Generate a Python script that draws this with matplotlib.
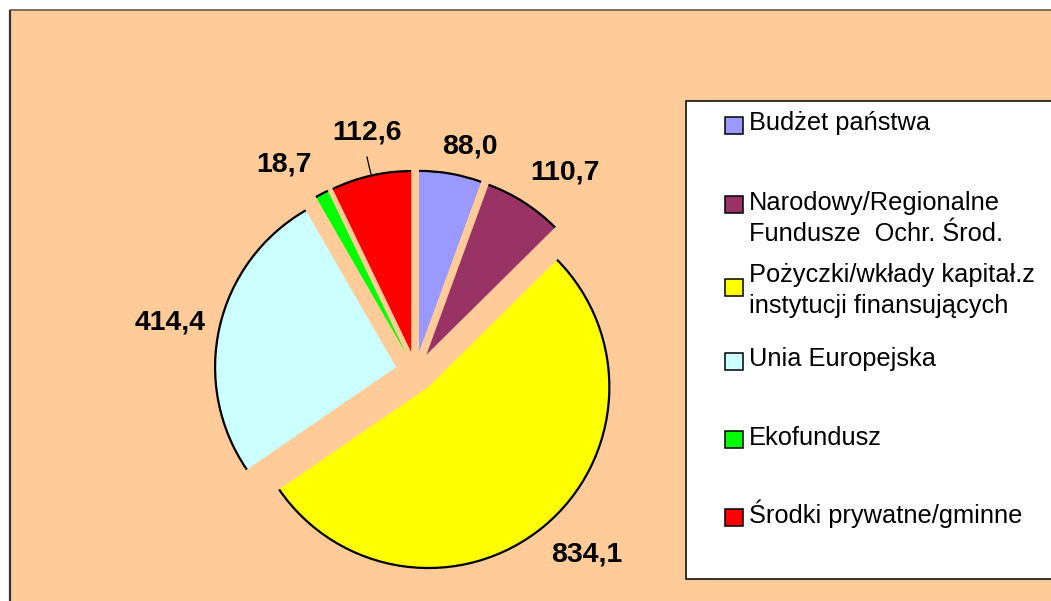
import matplotlib
matplotlib.use("Agg")
import matplotlib.pyplot as plt
from matplotlib.patches import Rectangle, Arc
import numpy as np

plt.rcParams['font.family'] = ['Liberation Sans', 'DejaVu Sans']

# ---- data ----
categories = [
    "Budżet państwa",
    "Narodowy/Regionalne\nFundusze  Ochr. Środ.",
    "Pożyczki/wkłady kapitał.z\ninstytucji finansujących",
    "Unia Europejska",
    "Ekofundusz",
    "Środki prywatne/gminne",
]
values = [88.0, 110.7, 834.1, 414.4, 18.7, 112.6]
colors = ["#9999FF", "#993366", "#FFFF00", "#CCFFFF", "#00FF00", "#FF0000"]

# ---- layout (pixels) ----
W, H = 1051, 601
BG = "#FFCC99"
cx, cy = 415.6, 371.6       # pie centre (pixel, from top)
R = 181.0                   # radius in px
explode_px = 20.0

label_pos = [(470, 147), (565, 173), (587, 555), (170, 323), (284, 165), (367, 132)]
legend_text_baseline = [130, 210, 282, 366, 445, 523]
legend_marker_center = [125, 204, 287, 361, 439, 517]

fig = plt.figure(figsize=(W / 100, H / 100), dpi=100)
fig.patch.set_facecolor("white")

# pixel axes (y downward)
ax = fig.add_axes([0, 0, 1, 1])
ax.set_xlim(0, W)
ax.set_ylim(H, 0)
ax.axis("off")

ax.add_patch(Rectangle((10, 10), W - 10, H - 10, facecolor=BG, edgecolor="none", zorder=0))
ax.plot([10, 10], [10, H], color="#333333", lw=1.6, zorder=1, solid_capstyle="butt")
ax.plot([10, W], [10, 10], color="#6a5a4a", lw=1.2, zorder=1, solid_capstyle="butt")

# legend box
ax.add_patch(Rectangle((686, 101), W + 10 - 686, 579 - 101, facecolor="white",
                       edgecolor="black", lw=1.1, zorder=1))
for i, (cat, col) in enumerate(zip(categories, colors)):
    mc = legend_marker_center[i]
    ax.add_patch(Rectangle((725, mc - 8.5), 18, 17, facecolor=col, edgecolor="black",
                           lw=1.1, zorder=2))
    lines = cat.split("\n")
    for j, line in enumerate(lines):
        ax.text(749, legend_text_baseline[i] + 31 * j, line, fontsize=18.3,
                ha="left", va="baseline", color="black", zorder=3)

# pie axes: unit radius == R px
ax2 = fig.add_axes([0, 0, 1, 1])
ax2.patch.set_alpha(0)
cyb = H - cy
wedges, _ = ax2.pie(values, colors=colors, startangle=90, counterclock=False,
                    explode=[explode_px / R] * len(values), radius=1, center=(0, 0),
                    wedgeprops=dict(linewidth=0))
ax2.set_xlim(-cx / R, (W - cx) / R)
ax2.set_ylim(-cyb / R, (H - cyb) / R)
ax2.set_aspect("equal")
ax2.axis("off")
for w in wedges:
    arc = Arc(w.center, 2 * w.r, 2 * w.r, theta1=w.theta1, theta2=w.theta2,
              color="black", lw=1.6, zorder=3)
    ax2.add_patch(arc)

# value labels
for v, (lx, ly) in zip(values, label_pos):
    ax2.text(lx, ly, f"{v:.1f}".replace(".", ","), transform=ax.transData,
             fontsize=20.5, fontweight="bold", ha="center", va="center", color="black")

# leader line for 112,6
ax2.plot([367, 369, 371], [157, 166, 174], color="black", lw=0.9, transform=ax.transData)

fig.savefig("out.png", dpi=100, facecolor=fig.get_facecolor())
